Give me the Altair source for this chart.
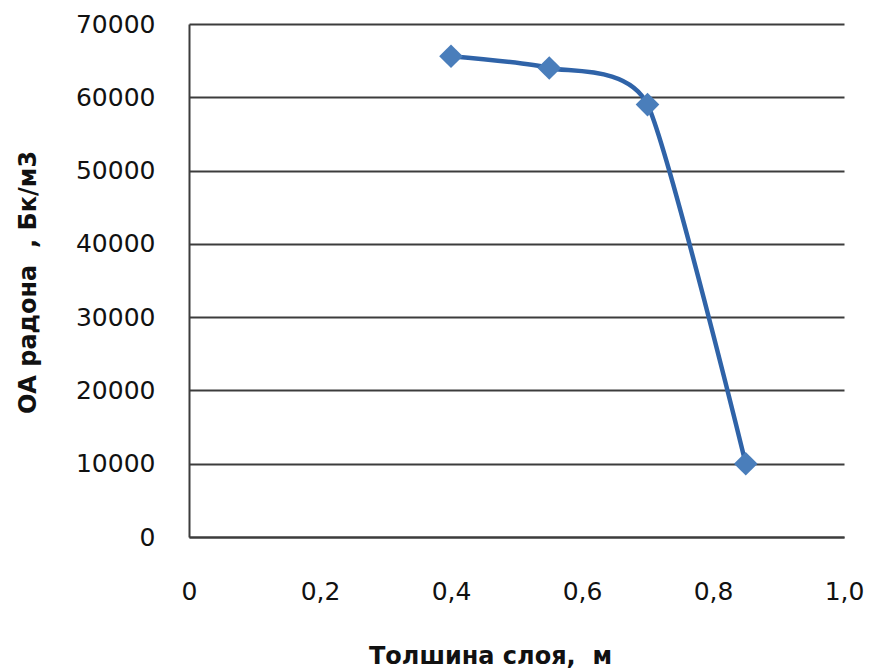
import altair as alt
import pandas as pd

thickness = [0.4, 0.55, 0.7, 0.85]
activity = [65600, 64000, 59000, 10000]

df = pd.DataFrame({"x": thickness, "y": activity})

FONT = "DejaVu Sans"
GRID = "#3c3c3c"

x_enc = alt.X(
    "x:Q",
    scale=alt.Scale(domain=[0, 1.0], nice=False, zero=True),
    axis=alt.Axis(
        title="Толшина слоя,\u00a0\u00a0м",
        values=[0, 0.2, 0.4, 0.6, 0.8, 1.0],
        labelExpr="replace(format(datum.value, datum.value == 0 ? 'd' : '.1f'), '.', ',')",
        grid=False,
        ticks=False,
        tickSize=0,
        domain=True,
        domainColor=GRID,
        domainWidth=2,
        labelFont=FONT,
        labelFontSize=25,
        labelColor="#111111",
        labelBaseline="middle",
        labelPadding=54,
        labelFlush=False,
        titleFont=FONT,
        titleFontSize=24,
        titleFontWeight="bold",
        titleColor="#111111",
        titleX=301,
        titleY=119,
        titleAlign="center",
        titleBaseline="middle",
    ),
)

y_enc = alt.Y(
    "y:Q",
    scale=alt.Scale(domain=[0, 70000], nice=False),
    axis=alt.Axis(
        title="ОА радона\u00a0\u00a0, Бк/м3",
        values=[0, 10000, 20000, 30000, 40000, 50000, 60000, 70000],
        format="d",
        grid=True,
        gridColor=GRID,
        gridWidth=2,
        gridOpacity=1,
        ticks=False,
        tickSize=0,
        domain=True,
        domainColor=GRID,
        domainWidth=2,
        labelFont=FONT,
        labelFontSize=25,
        labelColor="#111111",
        labelPadding=34,
        labelFlush=False,
        titleFont=FONT,
        titleFontSize=24,
        titleFontWeight="bold",
        titleColor="#111111",
        titleAngle=-90,
        titleX=-161,
        titleY=258,
        titleAlign="center",
        titleBaseline="middle",
    ),
)

base = alt.Chart(df).encode(x=x_enc, y=y_enc)

line = base.mark_line(
    color="#2f63a8", strokeWidth=4.5, interpolate="cardinal", tension=0.4
)
points = base.mark_point(
    shape="diamond", filled=True, size=560, color="#4a7ebb", opacity=1
)

chart = (
    alt.layer(line, points)
    .properties(
        width=655,
        height=513,
        autosize=alt.AutoSizeParams(type="none"),
        padding={"left": 189, "top": 24, "right": 33, "bottom": 135},
        background="white",
    )
    .configure_view(stroke=None)
)

chart.save("out.html", embed_options={"renderer": "svg", "actions": False})
